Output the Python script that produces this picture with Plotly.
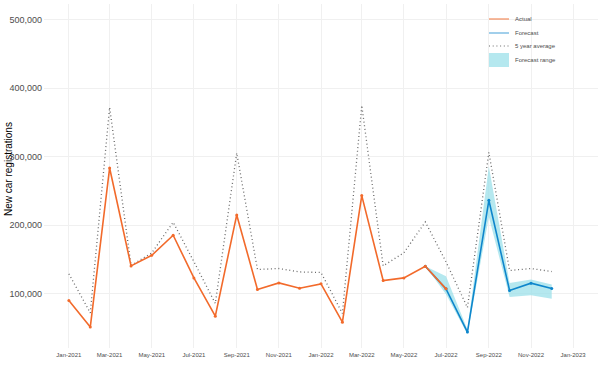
import plotly.graph_objects as go

# ---- data ----
actual_dates = ["2021-01-01","2021-02-01","2021-03-01","2021-04-01","2021-05-01","2021-06-01",
                "2021-07-01","2021-08-01","2021-09-01","2021-10-01","2021-11-01","2021-12-01",
                "2022-01-01","2022-02-01","2022-03-01","2022-04-01","2022-05-01","2022-06-01",
                "2022-07-01"]
actual_values = [90400, 51500, 283700, 140800, 156400, 185600,
                 123300, 67500, 215200, 106400, 116000, 108300,
                 114600, 58700, 243400, 119500, 123300, 140400,
                 107300]

forecast_dates = ["2022-06-01","2022-07-01","2022-08-01","2022-09-01","2022-10-01","2022-11-01","2022-12-01"]
forecast_values = [140400, 107300, 44200, 236600, 105000, 115600, 107900]
forecast_upper = [140400, 125800, 48000, 286000, 116000, 121000, 113700]
forecast_lower = [140400, 99600, 41000, 212000, 95600, 98100, 92700]

avg_dates = actual_dates[:-1] + forecast_dates[1:]
avg_values = [129200, 72300, 372200, 141400, 159800, 204500,
              147000, 86000, 305500, 135600, 137000, 132000,
              131200, 71400, 375000, 140800, 160000, 205000,
              146600, 80000, 306500, 134100, 137000, 132600]

legend_labels = ["Actual", "Forecast", "5 year average", "Forecast range"]
y_title = "New car registrations"

ORANGE = "#F26A2B"
BLUE = "#0E86CC"
RIBBON = "rgba(150,222,232,0.7)"
GREY_DOT = "#6a6a6a"

fig = go.Figure()

# ribbon
fig.add_trace(go.Scatter(x=forecast_dates, y=forecast_upper, mode="lines",
                         line=dict(width=0), hoverinfo="skip", showlegend=False))
fig.add_trace(go.Scatter(x=forecast_dates, y=forecast_lower, mode="lines",
                         line=dict(width=0), fill="tonexty", fillcolor=RIBBON,
                         name=legend_labels[3], showlegend=False))
# 5 year average
fig.add_trace(go.Scatter(x=avg_dates, y=avg_values, mode="lines",
                         line=dict(color=GREY_DOT, width=1.3, dash="1px,2.7px"),
                         name=legend_labels[2], showlegend=False))
# forecast
fig.add_trace(go.Scatter(x=forecast_dates, y=forecast_values, mode="lines+markers",
                         line=dict(color=BLUE, width=1.6), marker=dict(size=3, color=BLUE),
                         name=legend_labels[1], showlegend=False))
# actual
fig.add_trace(go.Scatter(x=actual_dates, y=actual_values, mode="lines+markers",
                         line=dict(color=ORANGE, width=1.6), marker=dict(size=3, color=ORANGE),
                         name=legend_labels[0], showlegend=False))

# ---- custom legend (paper coords) ----
L, R, T, B = 44, 598, 4, 348
W, H = R - L, B - T
def px(x): return (x - L) / W
def py(y): return (B - y) / H

kx0, kx1, tx = px(489), px(509), px(513)
leg_y = [19, 33, 46, 60]
fig.add_shape(type="line", xref="paper", yref="paper", x0=kx0, x1=kx1, y0=py(leg_y[0]), y1=py(leg_y[0]),
              line=dict(color=ORANGE, width=1.3), opacity=0.7)
fig.add_shape(type="line", xref="paper", yref="paper", x0=kx0, x1=kx1, y0=py(leg_y[1]), y1=py(leg_y[1]),
              line=dict(color=BLUE, width=1.3), opacity=0.6)
fig.add_shape(type="line", xref="paper", yref="paper", x0=kx0, x1=kx1, y0=py(leg_y[2]), y1=py(leg_y[2]),
              line=dict(color=GREY_DOT, width=1.2, dash="1px,2.7px"))
fig.add_shape(type="rect", xref="paper", yref="paper", x0=kx0, x1=kx1, y0=py(67), y1=py(53),
              line=dict(width=0), fillcolor=RIBBON)
for lab, yy in zip(legend_labels, leg_y):
    fig.add_annotation(text=lab, xref="paper", yref="paper", x=tx, y=py(yy),
                       xanchor="left", yanchor="middle", showarrow=False,
                       font=dict(size=6, color="#4d4d4d"))

# y-axis title
fig.add_annotation(text=y_title, xref="paper", yref="paper", x=px(8), y=py(169),
                   xanchor="center", yanchor="middle", textangle=-90, showarrow=False,
                   font=dict(size=10, color="black"))

fig.update_layout(
    width=601, height=370,
    margin=dict(l=L, r=601 - R, t=T, b=370 - B),
    paper_bgcolor="white", plot_bgcolor="white",
    font=dict(family="Liberation Sans, Arial, sans-serif"),
    showlegend=False,
)
fig.update_xaxes(
    type="date", range=["2020-11-26", "2023-02-06"], automargin=False,
    tick0="2021-01-01", dtick="M2", tickformat="%b-%Y",
    tickfont=dict(size=6, color="#4d4d4d"),
    showgrid=True, gridcolor="#f0f0f0", gridwidth=1,
    zeroline=False, showline=False, ticks="", ticklabelstandoff=2,
)
fig.update_yaxes(
    range=[21000, 523000], automargin=False,
    tickvals=[100000, 200000, 300000, 400000, 500000], tickformat=",d",
    tickfont=dict(size=9, color="#4d4d4d"),
    showgrid=True, gridcolor="#f0f0f0", gridwidth=1,
    zeroline=False, showline=False, ticks="", ticklabelstandoff=1,
)

fig.write_html("out.html", config={"displayModeBar": False},
               post_script="document.body.style.margin='0';document.body.style.overflow='hidden';")
